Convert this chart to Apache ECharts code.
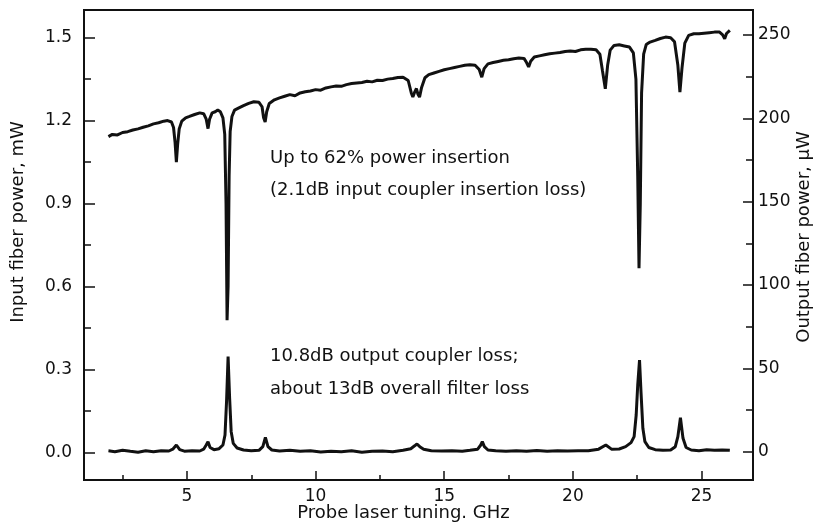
<!DOCTYPE html>
<html>
<head>
<meta charset="utf-8">
<title>Probe laser tuning</title>
</head>
<body style="margin:0;background:#fff;">
<div id="container" style="width:814px;height:528px;"></div>
<script src="https://cdn.jsdelivr.net/npm/echarts@6/dist/echarts.min.js"></script>
<script>
'use strict'

// tick values
var xMajor = [5, 10, 15, 20, 25];
var xMinor = [2.5, 7.5, 12.5, 17.5, 22.5];
var inMajor = [0, 0.3, 0.6, 0.9, 1.2, 1.5];
var inMinor = [0.15, 0.45, 0.75, 1.05, 1.35];
var outMajor = [0, 50, 100, 150, 200, 250];
var outMinor = [25, 75, 125, 175, 225];

// input fiber power, mW  [GHz, mW]
var inputPower = [
  [1.95,1.142],[2.1,1.150],[2.3,1.148],[2.5,1.157],[2.7,1.160],[2.9,1.166],[3.1,1.170],[3.3,1.176],
  [3.5,1.181],[3.7,1.188],[3.9,1.192],[4.1,1.198],[4.25,1.200],[4.4,1.195],[4.48,1.175],[4.54,1.120],
  [4.59,1.050],[4.64,1.115],[4.7,1.170],[4.8,1.198],[4.95,1.210],[5.1,1.215],[5.3,1.222],[5.5,1.228],
  [5.65,1.225],[5.75,1.205],[5.82,1.171],[5.88,1.205],[5.98,1.228],[6.1,1.232],[6.2,1.238],[6.3,1.232],
  [6.4,1.210],[6.47,1.150],[6.52,0.900],[6.56,0.478],[6.6,0.600],[6.64,1.000],[6.68,1.160],[6.75,1.215],
  [6.85,1.238],[7.0,1.245],[7.2,1.254],[7.4,1.262],[7.6,1.268],[7.8,1.266],[7.92,1.250],[7.98,1.210],
  [8.04,1.195],[8.1,1.232],[8.2,1.262],[8.4,1.275],[8.6,1.282],[8.8,1.288],[9.0,1.294],[9.2,1.290],
  [9.4,1.300],[9.6,1.304],[9.8,1.307],[10.0,1.312],[10.2,1.310],[10.4,1.318],[10.6,1.322],[10.8,1.325],
  [11.0,1.324],[11.2,1.330],[11.4,1.334],[11.6,1.336],[11.8,1.338],[12.0,1.342],[12.2,1.340],[12.4,1.346],
  [12.6,1.345],[12.8,1.350],[13.0,1.352],[13.2,1.356],[13.4,1.357],[13.6,1.345],[13.72,1.300],[13.78,1.285],
  [13.86,1.305],[13.92,1.316],[13.98,1.295],[14.04,1.285],[14.12,1.320],[14.25,1.355],[14.4,1.366],[14.6,1.372],
  [14.8,1.378],[15.0,1.384],[15.2,1.388],[15.4,1.392],[15.6,1.396],[15.8,1.400],[16.0,1.402],[16.2,1.400],
  [16.36,1.385],[16.46,1.357],[16.55,1.388],[16.7,1.405],[16.9,1.410],[17.1,1.414],[17.3,1.418],[17.5,1.420],
  [17.7,1.424],[17.9,1.426],[18.1,1.425],[18.2,1.410],[18.28,1.394],[18.36,1.415],[18.5,1.430],[18.7,1.434],
  [18.9,1.438],[19.1,1.442],[19.3,1.444],[19.5,1.446],[19.7,1.450],[19.9,1.452],[20.1,1.450],[20.3,1.456],
  [20.5,1.458],[20.7,1.458],[20.9,1.456],[21.05,1.440],[21.15,1.380],[21.26,1.315],[21.35,1.400],[21.45,1.455],
  [21.6,1.472],[21.8,1.474],[22.0,1.470],[22.2,1.466],[22.35,1.445],[22.45,1.350],[22.52,1.000],[22.57,0.666],
  [22.62,0.900],[22.67,1.300],[22.75,1.440],[22.85,1.475],[23.0,1.484],[23.2,1.490],[23.4,1.497],[23.6,1.502],
  [23.8,1.500],[23.95,1.485],[24.08,1.400],[24.16,1.303],[24.24,1.390],[24.35,1.480],[24.5,1.508],[24.7,1.514],
  [24.9,1.514],[25.1,1.516],[25.3,1.518],[25.5,1.520],[25.7,1.520],[25.82,1.510],[25.9,1.496],[25.97,1.515],
  [26.1,1.526]
];

// output fiber power, uW  [GHz, uW]
var outputPower = [
  [1.95,0.5],[2.2,0.0],[2.5,0.8],[2.8,0.2],[3.1,-0.3],[3.4,0.5],[3.7,0.0],[4.0,0.6],[4.3,0.4],[4.45,1.5],
  [4.59,4.0],[4.72,1.2],[4.9,0.3],[5.2,0.6],[5.5,0.4],[5.65,1.5],[5.75,4.0],[5.82,6.0],[5.9,2.5],[6.05,1.2],
  [6.25,1.8],[6.4,4.0],[6.48,10],[6.54,30],[6.6,57],[6.66,32],[6.72,12],[6.8,5],[6.95,2.2],[7.2,1.0],
  [7.5,0.5],[7.8,0.8],[7.95,3.0],[8.05,8.6],[8.15,3.0],[8.3,1.0],[8.6,0.4],[9.0,0.8],[9.4,0.2],[9.8,0.5],
  [10.2,-0.2],[10.6,0.3],[11.0,0.0],[11.4,0.5],[11.8,-0.3],[12.2,0.2],[12.6,0.4],[13.0,0.0],[13.4,0.8],[13.7,1.8],
  [13.85,3.5],[13.94,4.6],[14.05,3.0],[14.2,1.5],[14.5,0.6],[14.9,0.4],[15.3,0.6],[15.7,0.2],[16.0,0.8],[16.3,1.5],
  [16.42,4.0],[16.48,6.0],[16.56,3.0],[16.7,1.0],[17.0,0.5],[17.4,0.3],[17.8,0.6],[18.2,0.2],[18.6,0.7],[19.0,0.3],
  [19.4,0.5],[19.8,0.4],[20.2,0.6],[20.6,0.5],[21.0,1.5],[21.28,4.0],[21.5,1.5],[21.8,1.6],[22.05,3.0],[22.26,5.4],
  [22.38,9],[22.46,22],[22.52,40],[22.59,55],[22.65,35],[22.72,14],[22.8,6],[22.95,2.5],[23.2,1.2],[23.5,0.8],
  [23.8,1.0],[23.98,3.0],[24.08,9],[24.18,20.4],[24.28,8],[24.4,2.5],[24.6,1.0],[24.9,0.6],[25.2,1.2],[25.5,0.8],
  [25.8,1.0],[26.1,0.8]
];

var FONT = 'DejaVu Sans';
var INK = '#111';

// extra axis carrying only the short minor ticks
function minorAxis(pos, min, max, vals, len) {
  return {
    type: 'value', position: pos, min: min, max: max,
    axisLine: { show: false, onZero: false },
    axisTick: { show: true, inside: true, length: len, customValues: vals, lineStyle: { color: INK, width: 1.5 } },
    axisLabel: { show: false },
    splitLine: { show: false }
  };
}

var myCharts = echarts.init(document.getElementById('container'));
var option = {
  animation: false,
  backgroundColor: '#fff',
  grid: {
    left: 84, right: 61, top: 10, bottom: 48,
    show: true, borderColor: INK, borderWidth: 2,
    outerBoundsMode: 'none'
  },
  xAxis: [{
    type: 'value', position: 'bottom', min: 1, max: 27,
    name: 'Probe laser tuning. GHz', nameLocation: 'middle', nameGap: 24, nameMoveOverlap: false,
    nameTextStyle: { fontFamily: FONT, fontSize: 18, color: INK, padding: [0, 30, 0, 0] },
    axisLine: { onZero: false, lineStyle: { color: INK, width: 2 } },
    axisTick: { inside: true, length: 9, customValues: xMajor, lineStyle: { color: INK, width: 1.5 } },
    axisLabel: { customValues: xMajor, margin: 8, fontFamily: FONT, fontSize: 17, color: INK },
    splitLine: { show: false }
  }, minorAxis('bottom', 1, 27, xMinor, 5)],
  yAxis: [{
    type: 'value', position: 'left', min: -0.1, max: 1.6,
    name: 'Input fiber power, mW', nameLocation: 'middle', nameGap: 57, nameMoveOverlap: false,
    nameTextStyle: { fontFamily: FONT, fontSize: 18, color: INK, padding: [0, 0, 0, 46] },
    axisLine: { show: true, onZero: false, lineStyle: { color: INK, width: 2 } },
    axisTick: { show: true, inside: true, length: 11, customValues: inMajor, lineStyle: { color: INK, width: 1.5 } },
    axisLabel: {
      customValues: inMajor, margin: 12, fontFamily: FONT, fontSize: 17, color: INK,
      formatter: function (v) { return v.toFixed(1); }
    },
    splitLine: { show: false }
  }, minorAxis('left', -0.1, 1.6, inMinor, 7), {
    type: 'value', position: 'right', min: -17, max: 265,
    name: 'Output fiber power, \u03bcW', nameLocation: 'middle', nameGap: 42, nameRotate: 90, nameMoveOverlap: false,
    nameTextStyle: { fontFamily: FONT, fontSize: 18, color: INK, padding: [0, 0, 0, 16] },
    axisLine: { show: true, onZero: false, lineStyle: { color: INK, width: 2 } },
    axisTick: { show: true, inside: true, length: 10, customValues: outMajor, lineStyle: { color: INK, width: 1.5 } },
    axisLabel: { customValues: outMajor, margin: 5, fontFamily: FONT, fontSize: 17, color: INK },
    splitLine: { show: false }
  }, minorAxis('right', -17, 265, outMinor, 7)],
  graphic: [
    { type: 'text', style: { x: 270, y: 158, text: 'Up to 62% power insertion', font: '18px "DejaVu Sans"', fill: INK, verticalAlign: 'middle' } },
    { type: 'text', style: { x: 270, y: 190, text: '(2.1dB input coupler insertion loss)', font: '18px "DejaVu Sans"', fill: INK, verticalAlign: 'middle' } },
    { type: 'text', style: { x: 270, y: 356, text: '10.8dB output coupler loss;', font: '18px "DejaVu Sans"', fill: INK, verticalAlign: 'middle' } },
    { type: 'text', style: { x: 270, y: 389, text: 'about 13dB overall filter loss', font: '18px "DejaVu Sans"', fill: INK, verticalAlign: 'middle' } }
  ],
  series: [{
    name: 'Input', type: 'line', xAxisIndex: 0, yAxisIndex: 0,
    data: inputPower, showSymbol: false, lineStyle: { color: INK, width: 3 }
  }, {
    name: 'Output', type: 'line', xAxisIndex: 0, yAxisIndex: 2,
    data: outputPower, showSymbol: false, lineStyle: { color: INK, width: 3 }
  }]
};
myCharts.setOption(option);
</script>
</body>
</html>
